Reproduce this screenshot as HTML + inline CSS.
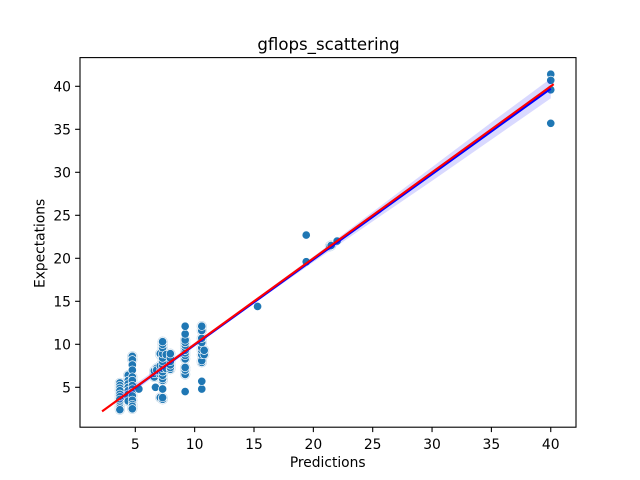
<!DOCTYPE html>
<html>
<head>
<meta charset="utf-8">
<style>
html,body{margin:0;padding:0;background:#fff;width:640px;height:480px;overflow:hidden}
svg{display:block}
text{font-family:"DejaVu Sans","Liberation Sans",sans-serif;fill:#000}
</style>
</head>
<body>
<svg id="chart" xmlns="http://www.w3.org/2000/svg" width="640" height="480" viewBox="0 0 640 480"></svg>
<script>
var xTicks = [5, 10, 15, 20, 25, 30, 35, 40];
var yTicks = [5, 10, 15, 20, 25, 30, 35, 40];
var titleText = 'gflops_scattering';
var xLabelText = 'Predictions';
var yLabelText = 'Expectations';

var predictions = [
 3.7,3.7,3.7,3.7,3.7,3.7,3.7,3.7,3.7,3.7,3.7,3.7,
 4.4,4.4,4.4,4.4,4.4,4.4,4.4,4.4,
 4.75,4.75,4.75,4.75,4.75,4.75,4.75,4.75,4.75,4.75,4.75,4.75,4.75,4.75,
 5.3,
 6.7,6.6,6.6,6.6,6.8,6.8,
 7.1,7.1,7.1,7.1,7.1,7.1,
 7.3,7.3,7.3,7.3,7.3,7.3,7.3,7.3,7.3,7.3,7.3,7.3,7.3,7.3,7.3,
 7.6,7.6,
 7.95,7.95,7.95,7.95,7.95,7.95,
 9.2,9.2,9.2,9.2,9.2,9.2,9.2,9.2,9.2,9.2,9.2,9.2,9.2,9.2,
 10.6,10.6,10.6,10.6,10.6,10.6,10.6,10.6,10.6,10.6,10.6,10.8,10.8,
 15.3,19.4,19.4,21.4,21.5,22,
 40,40,40,40
];
var expectations = [
 5.5,5.2,4.9,4.6,4.2,3.9,3.6,3.2,3.0,2.8,2.6,2.4,
 6.4,5.8,5.4,5.0,4.6,4.2,3.8,3.4,
 8.6,8.2,7.6,7.0,6.2,5.8,5.2,4.8,4.4,4.0,3.5,3.0,2.8,2.5,
 4.8,
 5.0,6.2,6.6,6.9,7.2,7.0,
 3.8,6.5,6.8,7.5,8.8,8.9,
 3.6,3.8,4.8,5.8,6.0,6.4,6.8,7.2,7.6,8.0,8.4,8.9,9.6,10.0,10.3,
 7.2,8.8,
 7.1,7.3,7.6,8.0,8.4,8.9,
 4.5,6.5,7.0,7.3,8.3,8.7,9.0,9.3,9.6,9.9,10.2,10.5,11.2,12.1,
 4.8,5.7,7.9,8.1,8.8,9.3,9.6,10.2,10.7,11.6,12.1,8.8,9.3,
 14.4,22.7,19.6,21.4,21.5,22.0,
 35.7,39.6,41.4,40.7
];
var identityLine = [2.2, 40.25];
var fitX = [3.7, 5, 7, 10, 13, 16, 20, 25, 30, 35, 40];
var fitY = [3.68, 4.96, 6.95, 9.93, 12.9, 15.88, 19.86, 24.82, 29.79, 34.76, 39.72];
var bandLower = [3.2, 4.6, 6.7, 9.75, 12.75, 15.7, 19.55, 24.3, 29.0, 33.8, 38.6];
var bandUpper = [4.2, 5.4, 7.3, 10.2, 13.15, 16.15, 20.2, 25.4, 30.6, 35.8, 40.9];

var NS = 'http://www.w3.org/2000/svg';
var svg = document.getElementById('chart');
var left = 80, right = 576, top_ = 57.6, bottom = 427.2;

function xScale(v) { return 135.3 + (v - 5) * 11.87; }
function yScale(v) { return 387.3 - (v - 5) * 8.6; }

function make(tag, attrs, parent) {
  var el = document.createElementNS(NS, tag);
  for (var k in attrs) el.setAttribute(k, attrs[k]);
  (parent || svg).appendChild(el);
  return el;
}

function hasCloseNeighbour(i) {
  for (var j = 0; j < predictions.length; j++) {
    if (j !== i && Math.abs(predictions[j] - predictions[i]) < 0.5 && Math.abs(expectations[j] - expectations[i]) < 0.55) return true;
  }
  return false;
}

var bg = make('rect', {x: 0, y: 0, width: 640, height: 480, fill: '#fff'});



var haloGroup = make('g', {});


predictions.forEach(function (p, i) {
  if (!hasCloseNeighbour(i)) return;
  var h = make('circle', {cx: xScale(p), cy: yScale(expectations[i]), r: 5.2, fill: '#c9dcea'}, haloGroup);
  
  
});

var pointsGroup = make('g', {});


predictions.forEach(function (p, i) {
  var c = make('circle', {cx: xScale(p), cy: yScale(expectations[i]), r: 4.17, fill: '#1f77b4', stroke: '#fff', 'stroke-width': 0.67}, pointsGroup);
  
  
});

var upperPts = fitX.map(function (x, i) { return xScale(x) + ',' + yScale(bandUpper[i]); });
var lowerPts = fitX.map(function (x, i) { return xScale(x) + ',' + yScale(bandLower[i]); }).reverse();
var band = make('polygon', {points: upperPts.concat(lowerPts).join(' '), fill: '#0000ff', 'fill-opacity': 0.15, stroke: 'none'});



var fitLine = make('polyline', {points: fitX.map(function (x, i) { return xScale(x) + ',' + yScale(fitY[i]); }).join(' '), fill: 'none', stroke: '#0000ff', 'stroke-width': 2.1});



var redLine = make('line', {x1: xScale(identityLine[0]), y1: yScale(identityLine[0]), x2: xScale(identityLine[1]), y2: yScale(identityLine[1]), stroke: '#ff0000', 'stroke-width': 2.1});



xTicks.forEach(function (t) {
  var x = xScale(t);
  var tick = make('line', {x1: x, x2: x, y1: bottom, y2: bottom + 4.9, stroke: '#000', 'stroke-width': 1.1});
  
  
  var label = make('text', {x: x, y: 449, 'text-anchor': 'middle', 'font-size': 13.9});
  label.textContent = t;
  
  
});

yTicks.forEach(function (t) {
  var y = yScale(t);
  var tick = make('line', {x1: left - 4.9, x2: left, y1: y, y2: y, stroke: '#000', 'stroke-width': 1.1});
  
  
  var label = make('text', {x: 71, y: y + 5.2, 'text-anchor': 'end', 'font-size': 13.9});
  label.textContent = t;
  
  
});

var frame = make('rect', {x: left, y: top_, width: right - left, height: bottom - top_, fill: 'none', stroke: '#000', 'stroke-width': 1.1});



var title = make('text', {x: 328.5, y: 50, 'text-anchor': 'middle', 'font-size': 16.6});
title.textContent = titleText;



var xLabel = make('text', {x: 327.7, y: 467, 'text-anchor': 'middle', 'font-size': 13.8});
xLabel.textContent = xLabelText;



var yLabel = make('text', {x: 0, y: 0, 'text-anchor': 'middle', 'font-size': 13.8, transform: 'translate(44.5 243.4) rotate(-90)'});
yLabel.textContent = yLabelText;


</script>
</body>
</html>
